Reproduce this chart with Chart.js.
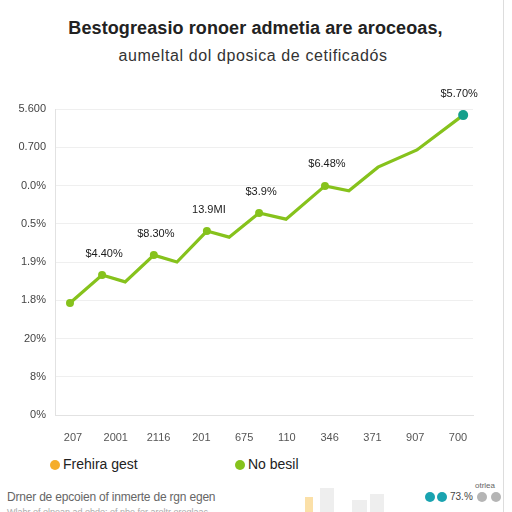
<!DOCTYPE html>
<html>
<head>
<meta charset="utf-8">
<script src="https://cdn.jsdelivr.net/npm/chart.js@4"></script>
<style>
  html, body { margin: 0; padding: 0; background: #fff; }
  body { width: 512px; height: 512px; position: relative; overflow: hidden; font-family: "Liberation Sans", Arial, sans-serif; }
  .abs { position: absolute; white-space: nowrap; }
  #title { top: 18px; left: 0; width: 511px; text-align: center; font-weight: bold; font-size: 18px; color: #222; letter-spacing: 0.1px; }
  #subtitle { top: 47px; left: 0; width: 506px; text-align: center; font-size: 16px; color: #333; letter-spacing: 0.6px; }
  #chartBox { position: absolute; left: 0; top: 80px; width: 503px; height: 370px; }
  .dot { position: absolute; border-radius: 50%; }
  .legendText { font-size: 14px; color: #222; font-family: "Liberation Sans Narrow", "Liberation Sans", Arial, sans-serif; }
  #edge { position: absolute; left: 503px; top: 0; width: 1px; height: 512px; background: #ddd; }
  .bar { position: absolute; background: #eee; }
</style>
</head>
<body>
<div id="title" class="abs">Bestogreasio ronoer admetia are aroceoas,</div>
<div id="subtitle" class="abs">aumeltal dol dposica de cetificadós</div>
<div id="chartBox"><canvas id="chart"></canvas></div>

<!-- legend -->
<div class="dot" style="left:50px;top:460px;width:10px;height:10px;background:#f5ad2a"></div>
<div class="abs legendText" style="left:63px;top:456px">Frehira gest</div>
<div class="dot" style="left:235px;top:460px;width:10px;height:10px;background:#86c21c"></div>
<div class="abs legendText" style="left:248px;top:456px">No besil</div>

<!-- faint footer -->
<div class="bar" style="left:305px;top:497px;width:8px;height:15px;background:#fbe0a8"></div>
<div class="bar" style="left:320px;top:488px;width:14px;height:24px"></div>
<div class="bar" style="left:352px;top:500px;width:15px;height:12px"></div>
<div class="bar" style="left:370px;top:494px;width:14px;height:18px"></div>
<div class="abs" style="left:7px;top:490px;font-size:12px;color:#666;letter-spacing:-0.2px">Drner de epcoien of inmerte de rgn egen</div>
<div class="abs" style="left:7px;top:507px;font-size:9px;color:#aaa">Wlabr of olpean ad obdo; of nbe for aroltr oreglaac</div>
<div class="abs" style="left:475px;top:481px;font-size:8px;color:#666">otrlea</div>
<div class="dot" style="left:425px;top:492px;width:10px;height:10px;background:#1aa3b0"></div>
<div class="dot" style="left:437px;top:492px;width:10px;height:10px;background:#1aa3b0"></div>
<div class="abs" style="left:450px;top:491px;font-size:10px;color:#444">73.%</div>
<div class="dot" style="left:477px;top:492px;width:10px;height:10px;background:#b5b5b5"></div>
<div class="dot" style="left:491px;top:492px;width:10px;height:10px;background:#b5b5b5"></div>
<div id="edge"></div>

<script>
// data
const xLabels = ['207', '2001', '2116', '201', '675', '110', '346', '371', '907', '700'];
const yLabels = ['0%', '8%', '20%', '1.8%', '1.9%', '0.5%', '0.0%', '0.700', '5.600'];
const xValues = [-0.07, 0.68, 1.22, 1.89, 2.43, 3.13, 3.65, 4.35, 4.98, 5.89, 6.45, 7.13, 8.04, 9.12];
const yValues = [2.93, 3.66, 3.48, 4.18, 4.00, 4.81, 4.65, 5.28, 5.12, 5.99, 5.86, 6.48, 6.93, 7.84];
const pointLabels = ['', '$4.40%', '', '$8.30%', '', '13.9MI', '', '$3.9%', '', '$6.48%', '', '', '', '$5.70%'];
const markerAt = [1, 1, 0, 1, 0, 1, 0, 1, 0, 1, 0, 0, 0, 2];

const lineGreen = '#86c21c';
const teal = '#15a08c';

const labelPlugin = {
  id: 'pointLabels',
  afterDatasetsDraw(chart) {
    const ctx = chart.ctx;
    const meta = chart.getDatasetMeta(0);
    ctx.save();
    ctx.font = '11px "Liberation Sans", Arial, sans-serif';
    ctx.fillStyle = '#1a1a1a';
    ctx.textAlign = 'center';
    ctx.textBaseline = 'bottom';
    meta.data.forEach((pt, i) => {
      if (!pointLabels[i]) return;
      const dx = i === pointLabels.length - 1 ? -4 : 2;
      ctx.fillText(pointLabels[i], pt.x + dx, pt.y - 16);
    });
    ctx.restore();
  }
};

new Chart(document.getElementById('chart'), {
  type: 'line',
  data: {
    datasets: [{
      data: xValues.map((x, i) => ({ x: x, y: yValues[i] })),
      borderColor: lineGreen,
      borderWidth: 3.2,
      tension: 0,
      fill: false,
      pointRadius: ctx => markerAt[ctx.dataIndex] === 2 ? 5 : (markerAt[ctx.dataIndex] ? 4 : 0),
      pointBackgroundColor: ctx => markerAt[ctx.dataIndex] === 2 ? teal : lineGreen,
      pointBorderWidth: 0
    }]
  },
  options: {
    responsive: true,
    maintainAspectRatio: false,
    animation: false,
    layout: { padding: { left: 0, right: 30, top: 29, bottom: 0 } },
    plugins: { legend: { display: false }, tooltip: { enabled: false } },
    scales: {
      x: {
        type: 'linear',
        min: -0.42,
        max: 9.35,
        afterBuildTicks: scale => { scale.ticks = xLabels.map((_, i) => ({ value: i })); },
        afterFit: scale => { scale.height = 35; },
        grid: { display: false },
        border: { color: '#e2e2e2' },
        ticks: {
          callback: v => xLabels[v],
          color: '#555',
          font: { size: 11, family: '"Liberation Sans", Arial, sans-serif' },
          maxRotation: 0,
          padding: 8
        }
      },
      y: {
        min: 0,
        max: 8,
        afterBuildTicks: scale => { scale.ticks = yLabels.map((_, i) => ({ value: i })); },
        afterFit: scale => { scale.width = 55; },
        grid: { color: '#efefef', drawTicks: false },
        border: { color: '#e2e2e2' },
        ticks: {
          callback: v => yLabels[v],
          color: '#444',
          font: { size: 11, family: '"Liberation Sans", Arial, sans-serif' },
          padding: 9
        }
      }
    }
  },
  plugins: [labelPlugin]
});
</script>
</body>
</html>
